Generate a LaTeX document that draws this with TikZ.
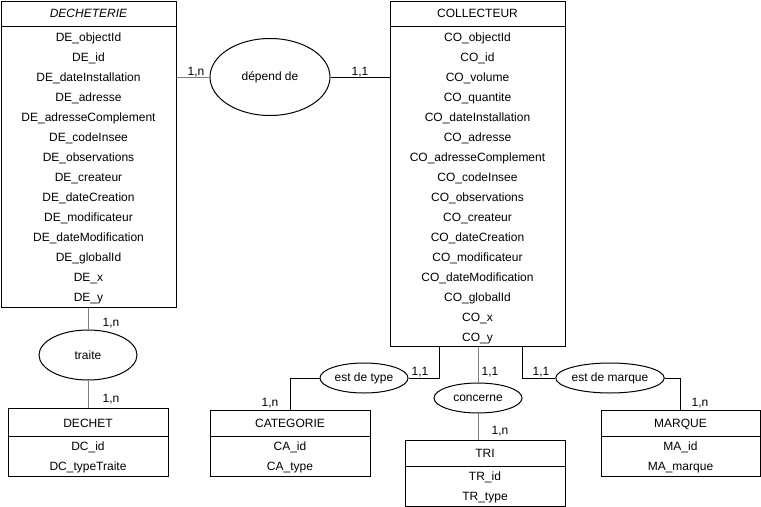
\documentclass[tikz,border=0pt]{standalone}
\usepackage{fontspec}
\setmainfont{Liberation Sans}
\usetikzlibrary{shapes.geometric,fit}
\definecolor{lgray}{RGB}{128,128,128}
\begin{document}
\begin{tikzpicture}[x=0.75pt,y=-0.75pt,
  font=\fontsize{9}{11}\selectfont,
  box/.style={draw,line width=0.75pt,inner sep=0pt},
  rel/.style={draw,ellipse,line width=0.75pt,inner sep=0pt},
  lnk/.style={line width=0.75pt},
  glnk/.style={line width=0.75pt,draw=lgray},
  txt/.style={inner sep=0pt,anchor=base},
  card/.style={inner sep=0pt,anchor=base}]
\useasboundingbox (0,0) rectangle (761,507);

% ---------- DECHETERIE ----------
\node[box,fit={(1,1)(176,307)}] (dech) {};
\draw[lnk] (1,26) -- (176,26);
\node[txt] (dechT) at (88.5,17.5) {\itshape DECHETERIE};
\foreach \t [count=\i from 0] in {DE\_objectId,DE\_id,DE\_dateInstallation,DE\_adresse,DE\_adresseComplement,DE\_codeInsee,DE\_observations,DE\_createur,DE\_dateCreation,DE\_modificateur,DE\_dateModification,DE\_globalId,DE\_x,DE\_y}
  \node[txt] (de\i) at (88.5,41.5+20*\i) {\t};

% ---------- COLLECTEUR ----------
\node[box,fit={(390,1)(565,346)}] (coll) {};
\draw[lnk] (390,26) -- (565,26);
\node[txt] (collT) at (477.5,17.5) {COLLECTEUR};
\foreach \t [count=\i from 0] in {CO\_objectId,CO\_id,CO\_volume,CO\_quantite,CO\_dateInstallation,CO\_adresse,CO\_adresseComplement,CO\_codeInsee,CO\_observations,CO\_createur,CO\_dateCreation,CO\_modificateur,CO\_dateModification,CO\_globalId,CO\_x,CO\_y}
  \node[txt] (co\i) at (477.5,41.5+20*\i) {\t};

% ---------- DECHET ----------
\node[box,fit={(8,408)(168,476)}] (dechet) {};
\draw[lnk] (8,436) -- (168,436);
\node[txt] (dcT) at (88,427.5) {DECHET};
\node[txt] (dc1) at (88,450.5) {DC\_id};
\node[txt] (dc2) at (88,470.5) {DC\_typeTraite};

% ---------- CATEGORIE ----------
\node[box,fit={(210,410)(370,476)}] (cat) {};
\draw[lnk] (210,436) -- (370,436);
\node[txt] (caT) at (290,427.5) {CATEGORIE};
\node[txt] (ca1) at (290,450.5) {CA\_id};
\node[txt] (ca2) at (290,470.5) {CA\_type};

% ---------- TRI ----------
\node[box,fit={(405,440)(565,506)}] (tri) {};
\draw[lnk] (405,466) -- (565,466);
\node[txt] (trT) at (485,457.5) {TRI};
\node[txt] (tr1) at (485,480.5) {TR\_id};
\node[txt] (tr2) at (485,500.5) {TR\_type};

% ---------- MARQUE ----------
\node[box,fit={(601,410)(760,476)}] (marque) {};
\draw[lnk] (601,436) -- (760,436);
\node[txt] (maT) at (680.5,427.5) {MARQUE};
\node[txt] (ma1) at (680.5,450.5) {MA\_id};
\node[txt] (ma2) at (680.5,470.5) {MA\_marque};

% ---------- relations ----------
\node[rel,minimum width=90pt,minimum height=57.75pt] (dep) at (270,77) {dépend de};
\node[rel,minimum width=73.5pt,minimum height=37.5pt] (traite) at (88,355) {traite};
\node[rel,minimum width=66pt,minimum height=22.5pt] (estype) at (364,378) {est de type};
\node[rel,minimum width=66pt,minimum height=22.5pt] (conc) at (478,398) {concerne};
\node[rel,minimum width=67.5pt,minimum height=22.5pt] (esmarq) at (610,378) {est de marque};

\coordinate (c1) at (439,346);
\coordinate (c2) at (522,346);

% ---------- connectors ----------
\draw[glnk] (dep.west -| dech.east) -- (dep.west);
\draw[lnk] (dep.east) -- (dep.east -| coll.west);
\draw[glnk] (traite.north |- dech.south) -- (traite.north);
\draw[glnk] (traite.south) -- (traite.south |- dechet.north);
\draw[lnk] (c1) |- (estype.east);
\draw[lnk] (estype.west) -| (cat.north);
\draw[glnk] (conc.north |- coll.south) -- (conc.north);
\draw[glnk] (conc.south) -- (conc.south |- tri.north);
\draw[lnk] (c2) |- (esmarq.west);
\draw[lnk] (esmarq.east) -| (marque.north);

% ---------- cardinalities ----------
\node[card] (k1) at (196,75) {1,n};
\node[card] (k2) at (360,75) {1,1};
\node[card] (k3) at (111,326) {1,n};
\node[card] (k4) at (111,402) {1,n};
\node[card] (k5) at (270,406) {1,n};
\node[card] (k6) at (420,375) {1,1};
\node[card] (k7) at (490,375) {1,1};
\node[card] (k8) at (500,434) {1,n};
\node[card] (k9) at (541,375) {1,1};
\node[card] (k10) at (700,406) {1,n};
\end{tikzpicture}
\end{document}
